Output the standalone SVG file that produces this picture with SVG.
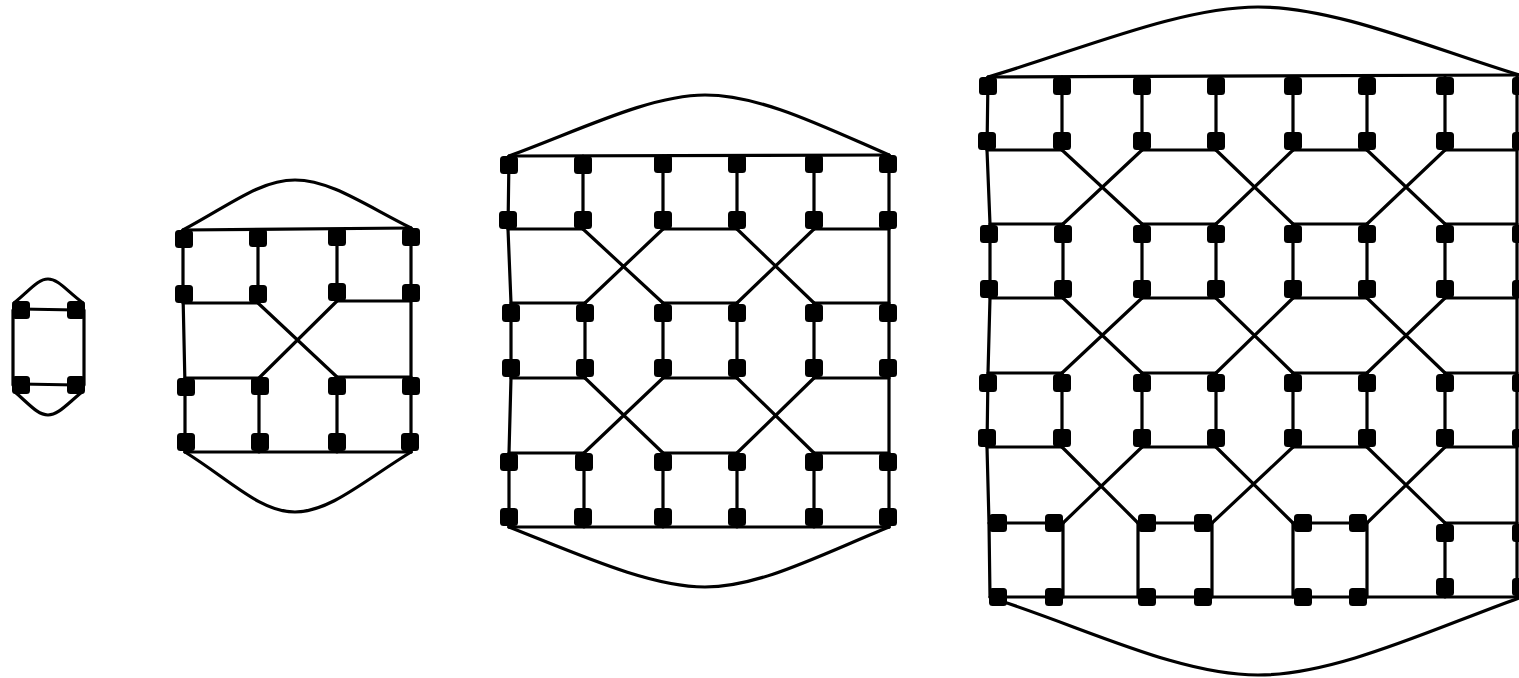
<svg xmlns="http://www.w3.org/2000/svg" xmlns:xlink="http://www.w3.org/1999/xlink" width="1519" height="678" viewBox="0 0 1519 678">
<style>
.e{fill:none;stroke:#000;stroke-width:3.2;stroke-linejoin:round;stroke-linecap:round}
.n{fill:#000}
</style>
<defs>
<rect id="nd" class="n" x="-9" y="-9" width="18" height="18" rx="3.5"/>
</defs>
<rect width="1519" height="678" fill="#fff"/>
<g id="connectors" class="e">
<!-- graph 1 -->
<path d="M21,309 L76,310"/>
<path d="M21,384 L76,385"/>
<path d="M13,310 L13,385"/>
<path d="M84,310 L84,385"/>
<path d="M14,303 C30,290 38,279 48,279 C58,279 66,290 83,303"/>
<path d="M15,392 C30,405 38,415 48,415 C58,415 66,405 82,392"/>
<!-- graph 2 -->
<path d="M183,230 L411,228"/>
<path d="M183,230 C230,205 260,180 295,180 C330,180 365,205 411,228"/>
<path d="M185,452 L411,452"/>
<path d="M185,452 C230,480 260,512 295,512 C330,512 365,480 411,452"/>
<path d="M183,230 L183,294 L185,386 L185,452"/>
<path d="M411,228 L411,452"/>
<path d="M258,238 L258,303 M183,303 L258,303"/>
<path d="M337,238 L337,301 L411,301"/>
<path d="M258,303 L337,377 M337,301 L259,378"/>
<path d="M185,378 L259,378 L259,452"/>
<path d="M411,377 L337,377 L337,452"/>
<!-- graph 3 -->
<path d="M509,156 L889,155"/>
<path d="M509,156 C580,130 650,95 705,95 C760,95 820,125 889,155"/>
<path d="M509,527 L889,527"/>
<path d="M509,527 C580,555 650,587 705,587 C760,587 820,555 889,527"/>
<path d="M509,156 L508,229 L511,303 L511,378 L509,453 L509,527"/>
<path d="M889,155 L889,527"/>
<path d="M583,156 L583,229 M663,156 L663,229 M737,156 L737,229 M814,156 L814,229"/>
<path d="M508,229 L583,229 M663,229 L737,229 M814,229 L889,229"/>
<path d="M583,229 L663,303 M663,229 L585,303 M737,229 L814,303 M814,229 L737,303"/>
<path d="M511,303 L585,303 M663,303 L737,303 M814,303 L889,303"/>
<path d="M585,303 L585,378 M663,303 L663,378 M737,303 L737,378 M814,303 L814,378"/>
<path d="M511,378 L585,378 M663,378 L737,378 M814,378 L889,378"/>
<path d="M585,378 L663,453 M663,378 L584,453 M737,378 L814,453 M814,378 L737,453"/>
<path d="M509,453 L584,453 M663,453 L737,453 M814,453 L889,453"/>
<path d="M584,453 L584,527 M663,453 L663,527 M737,453 L737,527 M814,453 L814,527"/>
<!-- graph 4 -->
<path d="M988,77 L1519,75"/>
<path d="M988,77 C1080,50 1180,7 1258,7 C1336,7 1430,48 1519,75"/>
<path d="M990,597 L1519,597"/>
<path d="M998,600 C1090,630 1180,675 1258,675 C1336,675 1430,630 1519,598"/>
<path d="M988,77 L987,150 L990,224 L990,298 L988,373 L987,447 L989,523 L990,597"/>
<path d="M1517,75 L1517,597"/>
<path d="M1062,77 L1062,150 M1142,77 L1142,150 M1216,77 L1216,150 M1293,77 L1293,150 M1367,77 L1367,150 M1445,77 L1445,150"/>
<path d="M987,150 L1062,150 M1142,150 L1216,150 M1293,150 L1367,150 M1445,150 L1517,150"/>
<path d="M1062,150 L1142,224 M1142,150 L1063,224 M1216,150 L1293,224 M1293,150 L1216,224 M1367,150 L1445,224 M1445,150 L1367,224"/>
<path d="M990,224 L1063,224 M1142,224 L1216,224 M1293,224 L1367,224 M1445,224 L1517,224"/>
<path d="M1063,224 L1063,298 M1142,224 L1142,298 M1216,224 L1216,298 M1293,224 L1293,298 M1367,224 L1367,298 M1445,224 L1445,298"/>
<path d="M990,298 L1063,298 M1142,298 L1216,298 M1293,298 L1367,298 M1445,298 L1517,298"/>
<path d="M1063,298 L1142,373 M1142,298 L1062,373 M1216,298 L1293,373 M1293,298 L1216,373 M1367,298 L1445,373 M1445,298 L1367,373"/>
<path d="M988,373 L1062,373 M1142,373 L1216,373 M1293,373 L1367,373 M1445,373 L1517,373"/>
<path d="M1062,373 L1062,447 M1142,373 L1142,447 M1216,373 L1216,447 M1293,373 L1293,447 M1367,373 L1367,447 M1445,373 L1445,447"/>
<path d="M987,447 L1062,447 M1142,447 L1216,447 M1293,447 L1367,447 M1445,447 L1517,447"/>
<path d="M1062,447 L1138,523 M1142,447 L1063,523 M1216,447 L1293,523 M1293,447 L1212,523 M1367,447 L1445,523 M1445,447 L1367,523"/>
<path d="M989,523 L1063,523 M1138,523 L1212,523 M1293,523 L1367,523 M1445,523 L1517,523"/>
<path d="M1063,523 L1063,597 M1138,523 L1138,597 M1212,523 L1212,597 M1293,523 L1293,597 M1367,523 L1367,597 M1445,523 L1445,597"/>
</g>
<g id="graph1">
<g id="n1-1"><use xlink:href="#nd" x="21" y="310"/></g>
<g id="n1-2"><use xlink:href="#nd" x="76" y="310"/></g>
<g id="n1-3"><use xlink:href="#nd" x="21" y="385"/></g>
<g id="n1-4"><use xlink:href="#nd" x="76" y="385"/></g>
</g>
<g id="graph2">
<g id="n2-r1c1"><use xlink:href="#nd" x="184" y="239"/></g>
<g id="n2-r1c2"><use xlink:href="#nd" x="258" y="238"/></g>
<g id="n2-r1c3"><use xlink:href="#nd" x="337" y="237"/></g>
<g id="n2-r1c4"><use xlink:href="#nd" x="411" y="237"/></g>
<g id="n2-r2c1"><use xlink:href="#nd" x="184" y="294"/></g>
<g id="n2-r2c2"><use xlink:href="#nd" x="258" y="294"/></g>
<g id="n2-r2c3"><use xlink:href="#nd" x="337" y="292"/></g>
<g id="n2-r2c4"><use xlink:href="#nd" x="411" y="293"/></g>
<g id="n2-r3c1"><use xlink:href="#nd" x="186" y="387"/></g>
<g id="n2-r3c2"><use xlink:href="#nd" x="260" y="386"/></g>
<g id="n2-r3c3"><use xlink:href="#nd" x="337" y="386"/></g>
<g id="n2-r3c4"><use xlink:href="#nd" x="411" y="386"/></g>
<g id="n2-r4c1"><use xlink:href="#nd" x="186" y="442"/></g>
<g id="n2-r4c2"><use xlink:href="#nd" x="260" y="442"/></g>
<g id="n2-r4c3"><use xlink:href="#nd" x="337" y="442"/></g>
<g id="n2-r4c4"><use xlink:href="#nd" x="410" y="442"/></g>
</g>
<g id="graph3">
<g id="n3-r1c1"><use xlink:href="#nd" x="509" y="165"/></g>
<g id="n3-r1c2"><use xlink:href="#nd" x="583" y="165"/></g>
<g id="n3-r1c3"><use xlink:href="#nd" x="663" y="164"/></g>
<g id="n3-r1c4"><use xlink:href="#nd" x="737" y="164"/></g>
<g id="n3-r1c5"><use xlink:href="#nd" x="814" y="164"/></g>
<g id="n3-r1c6"><use xlink:href="#nd" x="888" y="164"/></g>
<g id="n3-r2c1"><use xlink:href="#nd" x="508" y="220"/></g>
<g id="n3-r2c2"><use xlink:href="#nd" x="583" y="220"/></g>
<g id="n3-r2c3"><use xlink:href="#nd" x="663" y="220"/></g>
<g id="n3-r2c4"><use xlink:href="#nd" x="737" y="220"/></g>
<g id="n3-r2c5"><use xlink:href="#nd" x="814" y="220"/></g>
<g id="n3-r2c6"><use xlink:href="#nd" x="888" y="220"/></g>
<g id="n3-r3c1"><use xlink:href="#nd" x="511" y="313"/></g>
<g id="n3-r3c2"><use xlink:href="#nd" x="585" y="313"/></g>
<g id="n3-r3c3"><use xlink:href="#nd" x="663" y="313"/></g>
<g id="n3-r3c4"><use xlink:href="#nd" x="737" y="313"/></g>
<g id="n3-r3c5"><use xlink:href="#nd" x="814" y="313"/></g>
<g id="n3-r3c6"><use xlink:href="#nd" x="888" y="313"/></g>
<g id="n3-r4c1"><use xlink:href="#nd" x="511" y="368"/></g>
<g id="n3-r4c2"><use xlink:href="#nd" x="585" y="368"/></g>
<g id="n3-r4c3"><use xlink:href="#nd" x="663" y="368"/></g>
<g id="n3-r4c4"><use xlink:href="#nd" x="737" y="368"/></g>
<g id="n3-r4c5"><use xlink:href="#nd" x="814" y="368"/></g>
<g id="n3-r4c6"><use xlink:href="#nd" x="888" y="368"/></g>
<g id="n3-r5c1"><use xlink:href="#nd" x="509" y="462"/></g>
<g id="n3-r5c2"><use xlink:href="#nd" x="584" y="462"/></g>
<g id="n3-r5c3"><use xlink:href="#nd" x="663" y="462"/></g>
<g id="n3-r5c4"><use xlink:href="#nd" x="737" y="462"/></g>
<g id="n3-r5c5"><use xlink:href="#nd" x="814" y="462"/></g>
<g id="n3-r5c6"><use xlink:href="#nd" x="888" y="462"/></g>
<g id="n3-r6c1"><use xlink:href="#nd" x="509" y="517"/></g>
<g id="n3-r6c2"><use xlink:href="#nd" x="583" y="517"/></g>
<g id="n3-r6c3"><use xlink:href="#nd" x="663" y="517"/></g>
<g id="n3-r6c4"><use xlink:href="#nd" x="737" y="517"/></g>
<g id="n3-r6c5"><use xlink:href="#nd" x="814" y="517"/></g>
<g id="n3-r6c6"><use xlink:href="#nd" x="888" y="517"/></g>
</g>
<g id="graph4">
<g id="n4-r1c1"><use xlink:href="#nd" x="988" y="86"/></g>
<g id="n4-r1c2"><use xlink:href="#nd" x="1062" y="86"/></g>
<g id="n4-r1c3"><use xlink:href="#nd" x="1142" y="86"/></g>
<g id="n4-r1c4"><use xlink:href="#nd" x="1216" y="86"/></g>
<g id="n4-r1c5"><use xlink:href="#nd" x="1293" y="86"/></g>
<g id="n4-r1c6"><use xlink:href="#nd" x="1367" y="86"/></g>
<g id="n4-r1c7"><use xlink:href="#nd" x="1445" y="86"/></g>
<g id="n4-r1c8"><use xlink:href="#nd" x="1521" y="86"/></g>
<g id="n4-r2c1"><use xlink:href="#nd" x="987" y="141"/></g>
<g id="n4-r2c2"><use xlink:href="#nd" x="1062" y="141"/></g>
<g id="n4-r2c3"><use xlink:href="#nd" x="1142" y="141"/></g>
<g id="n4-r2c4"><use xlink:href="#nd" x="1216" y="141"/></g>
<g id="n4-r2c5"><use xlink:href="#nd" x="1293" y="141"/></g>
<g id="n4-r2c6"><use xlink:href="#nd" x="1367" y="141"/></g>
<g id="n4-r2c7"><use xlink:href="#nd" x="1445" y="141"/></g>
<g id="n4-r2c8"><use xlink:href="#nd" x="1521" y="141"/></g>
<g id="n4-r3c1"><use xlink:href="#nd" x="989" y="234"/></g>
<g id="n4-r3c2"><use xlink:href="#nd" x="1063" y="234"/></g>
<g id="n4-r3c3"><use xlink:href="#nd" x="1142" y="234"/></g>
<g id="n4-r3c4"><use xlink:href="#nd" x="1216" y="234"/></g>
<g id="n4-r3c5"><use xlink:href="#nd" x="1293" y="234"/></g>
<g id="n4-r3c6"><use xlink:href="#nd" x="1367" y="234"/></g>
<g id="n4-r3c7"><use xlink:href="#nd" x="1445" y="234"/></g>
<g id="n4-r3c8"><use xlink:href="#nd" x="1521" y="234"/></g>
<g id="n4-r4c1"><use xlink:href="#nd" x="989" y="289"/></g>
<g id="n4-r4c2"><use xlink:href="#nd" x="1063" y="289"/></g>
<g id="n4-r4c3"><use xlink:href="#nd" x="1142" y="289"/></g>
<g id="n4-r4c4"><use xlink:href="#nd" x="1216" y="289"/></g>
<g id="n4-r4c5"><use xlink:href="#nd" x="1293" y="289"/></g>
<g id="n4-r4c6"><use xlink:href="#nd" x="1367" y="289"/></g>
<g id="n4-r4c7"><use xlink:href="#nd" x="1445" y="289"/></g>
<g id="n4-r4c8"><use xlink:href="#nd" x="1521" y="289"/></g>
<g id="n4-r5c1"><use xlink:href="#nd" x="988" y="383"/></g>
<g id="n4-r5c2"><use xlink:href="#nd" x="1062" y="383"/></g>
<g id="n4-r5c3"><use xlink:href="#nd" x="1142" y="383"/></g>
<g id="n4-r5c4"><use xlink:href="#nd" x="1216" y="383"/></g>
<g id="n4-r5c5"><use xlink:href="#nd" x="1293" y="383"/></g>
<g id="n4-r5c6"><use xlink:href="#nd" x="1367" y="383"/></g>
<g id="n4-r5c7"><use xlink:href="#nd" x="1445" y="383"/></g>
<g id="n4-r5c8"><use xlink:href="#nd" x="1521" y="383"/></g>
<g id="n4-r6c1"><use xlink:href="#nd" x="987" y="438"/></g>
<g id="n4-r6c2"><use xlink:href="#nd" x="1062" y="438"/></g>
<g id="n4-r6c3"><use xlink:href="#nd" x="1142" y="438"/></g>
<g id="n4-r6c4"><use xlink:href="#nd" x="1216" y="438"/></g>
<g id="n4-r6c5"><use xlink:href="#nd" x="1293" y="438"/></g>
<g id="n4-r6c6"><use xlink:href="#nd" x="1367" y="438"/></g>
<g id="n4-r6c7"><use xlink:href="#nd" x="1445" y="438"/></g>
<g id="n4-r6c8"><use xlink:href="#nd" x="1521" y="438"/></g>
<g id="n4-r7c1"><use xlink:href="#nd" x="998" y="523"/></g>
<g id="n4-r7c2"><use xlink:href="#nd" x="1054" y="523"/></g>
<g id="n4-r7c3"><use xlink:href="#nd" x="1147" y="523"/></g>
<g id="n4-r7c4"><use xlink:href="#nd" x="1203" y="523"/></g>
<g id="n4-r7c5"><use xlink:href="#nd" x="1303" y="523"/></g>
<g id="n4-r7c6"><use xlink:href="#nd" x="1358" y="523"/></g>
<g id="n4-r7c7"><use xlink:href="#nd" x="1445" y="533"/></g>
<g id="n4-r7c8"><use xlink:href="#nd" x="1521" y="533"/></g>
<g id="n4-r8c1"><use xlink:href="#nd" x="998" y="597"/></g>
<g id="n4-r8c2"><use xlink:href="#nd" x="1054" y="597"/></g>
<g id="n4-r8c3"><use xlink:href="#nd" x="1147" y="597"/></g>
<g id="n4-r8c4"><use xlink:href="#nd" x="1203" y="597"/></g>
<g id="n4-r8c5"><use xlink:href="#nd" x="1303" y="597"/></g>
<g id="n4-r8c6"><use xlink:href="#nd" x="1358" y="597"/></g>
<g id="n4-r8c7"><use xlink:href="#nd" x="1445" y="587"/></g>
<g id="n4-r8c8"><use xlink:href="#nd" x="1521" y="587"/></g>
</g>
</svg>
